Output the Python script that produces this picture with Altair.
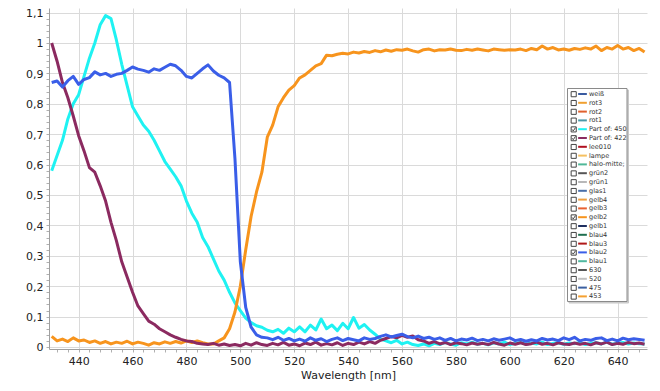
import altair as alt
import pandas as pd

wavelengths = list(range(430, 651, 2))

part450 = [
    0.58, 0.63, 0.68, 0.75, 0.80, 0.83, 0.89, 0.95, 1.00, 1.06,
    1.09, 1.08, 1.01, 0.93, 0.86, 0.79, 0.76, 0.73, 0.71, 0.68,
    0.645, 0.61, 0.585, 0.56, 0.53, 0.48, 0.44, 0.41, 0.36, 0.33,
    0.29, 0.25, 0.22, 0.18, 0.145, 0.12, 0.095, 0.08, 0.07, 0.065,
    0.055, 0.05, 0.058, 0.045, 0.062, 0.05, 0.066, 0.05, 0.072, 0.056,
    0.092, 0.06, 0.072, 0.054, 0.078, 0.06, 0.097, 0.062, 0.074, 0.056,
    0.042, 0.026, 0.02, 0.014, 0.022, 0.01, 0.016, 0.008, 0.005, 0.01,
    0.004, 0.012, 0.008, 0.015, 0.01, 0.006, 0.014, 0.01, 0.016, 0.009,
    0.012, 0.007, 0.014, 0.01, 0.016, 0.008, 0.012, 0.015, 0.009, 0.013,
    0.01, 0.016, 0.008, 0.012, 0.014, 0.009, 0.013, 0.011, 0.015, 0.008,
    0.012, 0.014, 0.01, 0.016, 0.009, 0.012, 0.015, 0.01, 0.013, 0.011,
    0.01,
]

part422 = [
    1.0, 0.94, 0.87, 0.82, 0.76, 0.695, 0.645, 0.59, 0.575, 0.53,
    0.48, 0.41, 0.35, 0.28, 0.23, 0.18, 0.135, 0.11, 0.085, 0.075,
    0.06, 0.05, 0.04, 0.032, 0.025, 0.02, 0.018, 0.012, 0.01, 0.008,
    0.012, 0.006, 0.01, 0.005, 0.008, 0.004, 0.012, 0.006, 0.014, 0.008,
    0.005, 0.012, 0.007, 0.015, 0.006, 0.01, 0.004, 0.013, 0.008, 0.016,
    0.006, 0.011, 0.007, 0.014, 0.005, 0.012, 0.008, 0.016, 0.01, 0.018,
    0.012, 0.022, 0.028, 0.034, 0.03, 0.038, 0.032, 0.036, 0.024, 0.02,
    0.012, 0.018, 0.01, 0.015, 0.008, 0.014, 0.011, 0.007, 0.013, 0.009,
    0.012, 0.008, 0.015, 0.01, 0.006, 0.013, 0.009, 0.014, 0.008, 0.011,
    0.016, 0.009, 0.012, 0.007, 0.014, 0.01, 0.008, 0.013, 0.009, 0.012,
    0.007, 0.014, 0.01, 0.016, 0.008, 0.012, 0.009, 0.015, 0.011, 0.013,
    0.009,
]

gelb2 = [
    0.035, 0.02, 0.026, 0.018, 0.03, 0.02, 0.023, 0.015, 0.02, 0.012,
    0.018, 0.01, 0.016, 0.012, 0.019, 0.01, 0.016, 0.012, 0.006, 0.014,
    0.01, 0.017, 0.012, 0.018, 0.013, 0.02, 0.015, 0.02, 0.014, 0.01,
    0.01, 0.02, 0.03, 0.06, 0.115, 0.2, 0.32, 0.43, 0.51, 0.575,
    0.69, 0.73, 0.79, 0.82, 0.845, 0.86, 0.885, 0.895, 0.91, 0.925,
    0.932, 0.96, 0.958, 0.963, 0.966, 0.964, 0.97, 0.967, 0.972, 0.969,
    0.975, 0.971, 0.977, 0.973, 0.978, 0.976, 0.98, 0.974, 0.97, 0.978,
    0.98, 0.974, 0.978, 0.977, 0.98, 0.976, 0.975, 0.979, 0.976, 0.98,
    0.977, 0.974, 0.98, 0.978, 0.976, 0.978, 0.977, 0.98, 0.975, 0.982,
    0.978, 0.99, 0.98, 0.985, 0.977, 0.98, 0.976, 0.982, 0.979, 0.984,
    0.98, 0.99, 0.975, 0.985, 0.98, 0.992, 0.98, 0.985, 0.975, 0.982,
    0.97,
]

blau2 = [
    0.87, 0.875, 0.855, 0.876, 0.89, 0.864, 0.88, 0.886, 0.905, 0.895,
    0.9, 0.89, 0.897, 0.9, 0.91, 0.921, 0.914, 0.91, 0.904, 0.915,
    0.91, 0.92, 0.93, 0.925, 0.91, 0.89, 0.885, 0.9, 0.915, 0.928,
    0.908, 0.894, 0.885, 0.87, 0.62, 0.28, 0.13, 0.065, 0.04, 0.032,
    0.03, 0.024, 0.032, 0.022, 0.028, 0.02, 0.026, 0.019, 0.03, 0.022,
    0.027, 0.018, 0.025, 0.03, 0.021, 0.028, 0.024, 0.02, 0.03, 0.025,
    0.028, 0.035, 0.04, 0.033, 0.038, 0.042, 0.034, 0.03, 0.036, 0.028,
    0.032, 0.025, 0.03, 0.022, 0.028, 0.02, 0.026, 0.023, 0.029, 0.021,
    0.025, 0.02, 0.027, 0.022, 0.026, 0.03, 0.021, 0.025, 0.019, 0.024,
    0.02, 0.028, 0.023, 0.026, 0.021, 0.03, 0.024, 0.032, 0.02, 0.025,
    0.022, 0.028, 0.03, 0.021, 0.026, 0.02, 0.029, 0.024, 0.027, 0.025,
    0.022,
]

legend_names = [
    "weiß", "rot3", "rot2", "rot1", "Part of: 450", "Part of: 422", "lee010",
    "lampe", "halo-mitte;", "grün2", "grün1", "glas1", "gelb4", "gelb3",
    "gelb2", "gelb1", "blau4", "blau3", "blau2", "blau1", "630", "520",
    "475", "453",
]
legend_colors = [
    "#3a5ba0", "#f0a030", "#e0602e", "#4a98a8", "#1ff2f2", "#8b2a60", "#b01020",
    "#f5c060", "#50b898", "#555555", "#b8b8b8", "#4a6fa8", "#f0a040", "#e86030",
    "#f7941d", "#1f2f5f", "#1f6f4f", "#b01818", "#3a5ee8", "#50b8a0", "#555555",
    "#c0c0c0", "#3a5fa0", "#f5a030",
]
legend_checked = [
    False, False, False, False, True, True, False,
    False, False, False, False, False, False, False,
    True, False, False, False, True, False, False,
    False, False, False,
]

# draw order: bottom to top
plotted = [("Part of: 450", part450), ("gelb2", gelb2), ("Part of: 422", part422), ("blau2", blau2)]

rows = []
for order, (name, vals) in enumerate(plotted):
    for wl, v in zip(wavelengths, vals):
        rows.append({"wl": wl, "val": v, "series": name, "ord": order})
df = pd.DataFrame(rows)

box_df = pd.DataFrame({
    "name": legend_names,
    "state": ["on" if c else "off" for c in legend_checked],
})
unchecked_path = "M-0.85,-0.85H0.85V0.85H-0.85Z"
checked_path = "M-0.85,-0.85H0.85V0.85H-0.85Z M-0.55,0L-0.15,0.5L0.6,-0.6"

font = "DejaVu Sans"
major_y = "abs(datum.value*10 - round(datum.value*10)) < 0.001"
major_x = "datum.value % 20 == 0"

x_vals = list(range(432, 649, 4))
y_vals = [round(i * 0.02, 2) for i in range(56)]

x_enc = alt.X(
    "wl:Q",
    scale=alt.Scale(domain=[429, 650.9], nice=False, zero=False),
    axis=alt.Axis(
        values=x_vals,
        labelExpr=major_x + " ? format(datum.value, 'd') : ''",
        gridOpacity={"condition": {"test": major_x, "value": 1}, "value": 0},
        gridColor="#dadada",
        tickSize=3,
        tickColor="#b0b0b0",
        domainColor="#a0a0a0",
        labelPadding=3,
        labelOverlap=False,
        labelFont=font,
        labelFontSize=11,
        labelColor="#222222",
        title="Wavelength [nm]",
        titleFont=font,
        titleFontSize=11,
        titleFontWeight="normal",
        titleColor="#222222",
        titlePadding=3,
    ),
)
y_enc = alt.Y(
    "val:Q",
    scale=alt.Scale(domain=[-0.0066, 1.1151], nice=False, zero=False),
    axis=alt.Axis(
        values=y_vals,
        labelExpr=major_y + " ? replace(format(datum.value, '.1~f'), '.', ',') : ''",
        gridOpacity={"condition": {"test": major_y, "value": 1}, "value": 0},
        gridColor="#dadada",
        tickSize=3,
        tickColor="#b0b0b0",
        domainColor="#a0a0a0",
        labelPadding=3,
        labelOffset=1,
        labelOverlap=False,
        labelFont=font,
        labelFontSize=11,
        labelColor="#222222",
        title=None,
    ),
)

lines = alt.Chart(df).mark_line(strokeWidth=3, strokeJoin="round").encode(
    x=x_enc,
    y=y_enc,
    color=alt.Color(
        "series:N",
        scale=alt.Scale(domain=legend_names, range=legend_colors),
        legend=alt.Legend(
            orient="none",
            legendX=529.5,
            legendY=82,
            title=None,
            symbolType="M-1.45,0H1.45",
            symbolSize=36,
            symbolStrokeWidth=2,
            labelFont=font,
            labelFontSize=6.5,
            labelColor="#333333",
            labelOffset=2.5,
            rowPadding=0.8,
            padding=0,
        ),
    ),
    order=alt.Order("ord:Q"),
)

shadow = alt.Chart(alt.Data(values=[{}])).mark_rect(
    fill="#d0d0d0", stroke="#c8c8c8", strokeWidth=1
).encode(
    x=alt.value(520), x2=alt.value(579.5), y=alt.value(82), y2=alt.value(295)
)

box = alt.Chart(alt.Data(values=[{}])).mark_rect(
    fill="white", stroke="#8a8a8a", strokeWidth=1
).encode(
    x=alt.value(518.5), x2=alt.value(578), y=alt.value(80.5), y2=alt.value(293.5)
)

checks = alt.Chart(box_df).mark_point(
    filled=False, size=36, stroke="#444444", strokeWidth=1, opacity=1
).encode(
    x=alt.value(524.7),
    y=alt.Y(
        "name:N",
        scale=alt.Scale(type="point", domain=legend_names, range=[86.2, 288.6], padding=0),
        axis=None,
    ),
    shape=alt.Shape(
        "state:N",
        scale=alt.Scale(domain=["off", "on"], range=[unchecked_path, checked_path]),
        legend=None,
    ),
)

chart = alt.layer(lines, shadow, box, checks).resolve_scale(
    y="independent"
).properties(
    width=598,
    height=341,
    padding={"left": 41, "top": 0, "right": 4, "bottom": 42},
    autosize=alt.AutoSizeParams(type="none"),
).configure_view(stroke=None)

chart.save("out.html", embed_options={"renderer": "svg", "actions": False})
